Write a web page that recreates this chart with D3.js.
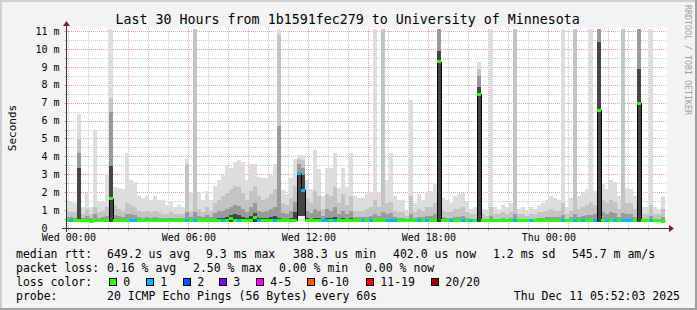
<!DOCTYPE html>
<html>
<head>
<meta charset="utf-8">
<script src="https://cdn.jsdelivr.net/npm/d3@7"></script>
<style>
html, body { margin: 0; padding: 0; background: #f3f3f3; }
svg text { font-family: "DejaVu Sans Mono", monospace; white-space: pre; }
</style>
</head>
<body>
<svg id="viz"></svg>
<script>
var width = 697;
var height = 310;

// 12 minute steps, first column starts Tue 23:50
var firstCol = new Date(2025, 11, 9, 23, 50);
var stepMin = 12;

// median rtt per step (ms)
var median = [
  .44,.44,.43,.44,.44,.43,.38,.44,.44,.43,
  .44,1.65,.44,.43,.44,.44,.44,.43,.44,.44,
  .43,.44,.44,.43,.44,.44,.43,.44,.44,.43,
  .44,.44,.44,.43,.44,.44,.44,.43,.44,.44,
  .45,.55,.46,.44,.47,.45,.44,.60,.46,.47,
  .45,.44,.45,.44,.44,.43,.44,.44,3.05,2.15,
  .43,.44,.44,.43,.44,.44,.43,.44,.44,.43,
  .44,.44,.43,.44,.44,.43,.44,.44,.43,.44,
  .44,.43,.44,.44,.43,.44,.44,.43,.44,.44,
  .43,.44,.44,9.3,.44,.43,.44,.44,.43,.44,
  .44,.43,.44,7.5,.44,.43,.44,.44,.43,.44,
  .44,.43,.44,.44,.43,.44,.44,.43,.44,.44,
  .43,.44,.44,.43,.44,.44,.43,.44,.44,.43,
  .44,.44,.43,6.6,.44,.43,.44,.44,.43,.44,
  .44,.43,.44,7.0,.44,.43,.44,.44,.43,.40
];

// lost pings out of 20 per step
var loss = [
  0,1,0,0,0,0,0,0,0,0,
  0,0,0,0,0,0,1,1,0,0,
  0,0,0,0,0,0,0,0,0,0,
  1,0,1,0,0,0,0,0,0,1,
  0,0,0,1,0,0,0,0,1,0,
  0,0,1,0,0,0,0,0,1,1,
  0,0,0,0,1,1,0,1,0,0,
  0,0,0,0,1,0,1,0,0,0,
  1,1,1,0,0,0,0,0,1,0,
  1,0,0,0,0,0,1,0,0,1,
  0,1,0,0,0,0,0,0,0,0,
  0,0,1,0,0,0,1,0,0,0,
  0,0,0,0,1,0,0,1,0,1,
  0,0,1,0,0,1,0,1,0,1,
  1,1,0,0,0,0,1,0,0,0
];

// lowest ping per step (ms)
var minRtt = [
  .36,.36,.36,.36,.36,.36,.36,.36,.36,.36,
  .36,.36,.36,.36,.36,.36,.36,.36,.36,.36,
  .36,.36,.36,.36,.36,.36,.36,.36,.36,.36,
  .36,.36,.36,.36,.36,.36,.36,.36,.36,.36,
  .36,.36,.36,.36,.36,.36,.36,.36,.36,.36,
  .36,.36,.36,.36,.36,.36,.36,.36,.68,.68,
  .36,.36,.36,.36,.36,.36,.36,.36,.36,.36,
  .36,.36,.36,.36,.36,.36,.36,.36,.36,.36,
  .36,.36,.36,.36,.36,.36,.36,.36,.36,.36,
  .36,.36,.36,.36,.36,.36,.36,.36,.36,.36,
  .36,.36,.36,.36,.36,.36,.36,.36,.36,.36,
  .36,.36,.36,.36,.36,.36,.36,.36,.36,.36,
  .36,.36,.36,.36,.36,.36,.36,.36,.36,.36,
  .36,.36,.36,.36,.36,.36,.36,.36,.36,.36,
  .36,.36,.36,.36,.36,.36,.36,.36,.36,.36
];

// smoke: highest ping (outer band)
var smokeMax = [
  1.6,1.5,1.4,6.4,1.2,2.0,1.2,5.5,1.5,1.5,
  3.0,11.5,2.3,2.25,2.2,4.2,2.7,2.6,1.8,1.7,
  1.8,1.6,1.8,1.6,1.6,1.3,1.5,1.2,1.3,1.2,
  3.9,2.0,11.5,2.0,1.6,2.1,1.6,2.4,2.7,3.0,
  3.5,3.4,3.7,3.8,3.7,2.7,3.6,3.6,2.9,2.8,
  2.8,3.0,3.6,11.5,2.15,1.9,2.8,3.9,4.1,4.1,
  2.7,2.2,4.4,3.3,1.8,3.4,3.4,4.2,2.25,3.4,
  2.3,4.2,1.8,1.7,1.7,1.9,2.0,11.5,2.0,11.5,
  2.7,4.2,1.8,1.6,1.6,1.0,7.2,1.4,1.9,1.6,
  2.0,2.1,2.5,11.5,1.7,1.6,1.4,1.8,1.9,2.0,
  1.5,1.1,1.2,9.3,1.1,1.0,11.5,1.2,1.1,1.3,
  1.2,1.4,11.5,1.1,1.2,1.0,1.2,1.1,1.3,1.4,
  1.6,1.8,1.7,1.6,11.5,1.2,1.7,11.5,1.8,2.0,
  2.2,11.5,2.1,11.5,2.5,2.2,2.7,2.6,1.8,11.5,
  2.25,2.2,1.8,11.5,1.2,1.2,11.5,1.2,1.1,1.8
];

// smoke: second highest band
var smokeHigh = [
  1.0,0.9,0.9,5.0,0.8,1.1,0.8,1.2,0.9,1.0,
  1.2,7.3,1.3,1.1,1.0,1.4,1.3,1.2,1.0,0.9,
  1.0,0.9,1.0,0.9,0.8,0.8,0.9,0.8,0.8,0.8,
  3.6,1.0,11.5,1.1,0.9,1.2,1.0,1.4,1.6,1.8,
  2.0,2.2,2.4,2.3,2.0,1.6,2.1,2.4,1.8,1.6,
  1.7,1.9,2.2,10.8,1.4,1.3,1.7,2.4,3.9,3.8,
  1.7,1.4,2.1,1.8,1.1,1.9,1.8,2.3,1.4,1.9,
  1.3,1.8,1.0,1.0,1.0,1.1,1.2,1.6,1.2,11.5,
  1.4,1.5,1.0,0.9,0.9,0.7,1.8,0.9,1.1,1.0,
  1.2,1.2,1.4,11.5,1.0,0.9,0.9,1.1,1.1,1.2,
  0.9,0.8,0.8,8.9,0.8,0.7,1.2,0.8,0.8,0.9,
  0.8,0.9,11.5,0.8,0.8,0.7,0.8,0.8,0.9,0.9,
  1.0,1.1,1.0,1.0,1.4,0.8,1.0,11.5,1.1,1.2,
  1.3,1.5,1.3,11.5,1.6,1.4,1.6,1.5,1.1,11.5,
  1.4,1.4,1.1,11.5,0.8,0.8,1.3,0.8,0.8,1.1
];

// smoke: inner band
var smokeMid = [
  .65,.62,.60,4.2,.60,.70,.60,.80,.60,.65,
  .70,6.5,.75,.70,.65,.80,.80,.75,.65,.60,
  .65,.60,.65,.60,.60,.58,.60,.58,.58,.60,
  .90,.65,.90,.70,.62,.75,.65,.85,.95,1.0,
  1.1,1.2,1.3,1.25,1.1,.90,1.2,1.4,1.0,.90,
  1.0,1.1,1.2,5.7,.85,.80,1.0,1.5,3.6,3.4,
  1.0,.85,1.1,1.0,.70,1.1,1.0,1.2,.80,1.0,
  .80,1.0,.65,.65,.62,.65,.70,.80,.70,.90,
  .80,.85,.65,.60,.60,.55,.80,.60,.65,.62,
  .70,.70,.80,11.5,.62,.60,.60,.65,.65,.70,
  .60,.55,.55,8.5,.55,.52,.70,.55,.55,.58,
  .55,.60,.80,.55,.55,.52,.55,.55,.58,.60,
  .62,.65,.62,.62,.75,.55,.62,.80,.65,.70,
  .75,.75,.80,11.5,.90,.80,.90,.85,.65,.85,
  .80,.80,.65,11.5,.55,.55,.70,.55,.55,.65
];

// smoke: core band
var smokeCore = [
  .50,.50,.50,3.4,.50,.50,.50,.55,.50,.50,
  .50,3.5,.50,.50,.50,.55,.55,.50,.50,.50,
  .50,.50,.50,.50,.50,.50,.50,.50,.50,.50,
  .55,.50,.55,.50,.50,.50,.50,.55,.60,.60,
  .65,.75,.80,.75,.65,.60,.70,.85,.60,.60,
  .60,.65,.70,.60,.55,.55,.60,.90,3.1,3.0,
  .60,.55,.60,.60,.50,.60,.60,.65,.55,.60,
  .55,.60,.50,.50,.50,.50,.50,.55,.50,.55,
  .50,.55,.50,.50,.50,.50,.55,.50,.50,.50,
  .50,.50,.50,9.9,.50,.50,.50,.50,.50,.50,
  .50,.50,.50,7.9,.50,.50,.50,.50,.50,.50,
  .50,.50,.50,.50,.50,.50,.50,.50,.50,.50,
  .50,.50,.50,.50,.50,.50,.50,.50,.50,.50,
  .50,.50,.50,10.4,.55,.50,.55,.50,.50,.50,
  .50,.50,.50,8.9,.50,.50,.50,.50,.50,.50
];

var lossLabels = ["0", "1", "2", "3", "4-5", "6-10", "11-19", "20/20"];
var lossColors = ["#26ff00", "#00b8ff", "#0059ff", "#7e00ff", "#ff00ff", "#ff5500", "#ff0000", "#a10000"];
var lossBoxX = [109, 146, 183, 219, 256, 307, 366, 431];

var smokeSeries = [smokeMax, smokeHigh, smokeMid, smokeCore];
var smokeColors = ["#dddddd", "#c4c4c4", "#9a9a9a", "#454545"];

var svg = d3.select("#viz")
    .attr("width", width)
    .attr("height", height);

// background + frame shading
svg.append("rect").attr("width", width).attr("height", height).attr("fill", "#f3f3f3");
svg.append("rect").attr("x", 0).attr("y", 0).attr("width", width).attr("height", 2).attr("fill", "#cfcfcf");
svg.append("rect").attr("x", 0).attr("y", 0).attr("width", 2).attr("height", height).attr("fill", "#cfcfcf");
svg.append("rect").attr("x", width - 2).attr("y", 0).attr("width", 2).attr("height", height).attr("fill", "#9e9e9e");
svg.append("rect").attr("x", 0).attr("y", height - 2).attr("width", width).attr("height", 2).attr("fill", "#9e9e9e");

var plotLeft = 67, plotRight = 667, plotTop = 28.5, plotBottom = 228.5;

var x = d3.scaleTime()
    .domain([new Date(2025, 11, 9, 23, 56), new Date(2025, 11, 11, 5, 56)])
    .range([plotLeft, plotRight]);

var y = d3.scaleLinear()
    .domain([0, 11.17])
    .range([plotBottom, plotTop])
    .clamp(true);

function colX(i) {
    return x(d3.timeMinute.offset(firstCol, stepMin * i));
}

// canvas
svg.append("rect")
    .attr("x", plotLeft).attr("y", 28)
    .attr("width", plotRight - plotLeft).attr("height", 201)
    .attr("fill", "#ffffff");

// grid
var grid = svg.append("g").attr("shape-rendering", "crispEdges");

var minorY = d3.range(0.5, 11.2, 1);
var majorY = d3.range(1, 12, 1);
grid.selectAll(".gy").data(minorY).enter().append("line")
    .attr("x1", plotLeft).attr("x2", plotRight)
    .attr("y1", function(d) { return Math.floor(y(d)) + 0.5; })
    .attr("y2", function(d) { return Math.floor(y(d)) + 0.5; })
    .attr("stroke", "#c8c8c8").attr("stroke-dasharray", "1,1");

var hours = x.ticks(d3.timeHour.every(1));
grid.selectAll(".gx").data(hours.filter(function(d) { return d.getHours() % 3 != 0; })).enter().append("line")
    .attr("x1", function(d) { return Math.floor(x(d)) + 0.5; })
    .attr("x2", function(d) { return Math.floor(x(d)) + 0.5; })
    .attr("y1", plotTop).attr("y2", plotBottom)
    .attr("stroke", "#c8c8c8").attr("stroke-dasharray", "1,1");

grid.selectAll(".my").data(majorY).enter().append("line")
    .attr("x1", plotLeft).attr("x2", plotRight)
    .attr("y1", function(d) { return Math.floor(y(d)) + 0.5; })
    .attr("y2", function(d) { return Math.floor(y(d)) + 0.5; })
    .attr("stroke", "#f0a0a0").attr("stroke-dasharray", "1,1");

grid.selectAll(".mx").data(hours.filter(function(d) { return d.getHours() % 3 == 0; })).enter().append("line")
    .attr("x1", function(d) { return Math.floor(x(d)) + 0.5; })
    .attr("x2", function(d) { return Math.floor(x(d)) + 0.5; })
    .attr("y1", plotTop).attr("y2", plotBottom)
    .attr("stroke", "#f0a0a0").attr("stroke-dasharray", "1,1");

// smoke
svg.append("clipPath").attr("id", "plotclip")
    .append("rect").attr("x", plotLeft).attr("y", plotTop).attr("width", plotRight - plotLeft).attr("height", plotBottom - plotTop);

var plot = svg.append("g").attr("clip-path", "url(#plotclip)");

smokeSeries.forEach(function(series, k) {
    plot.append("g")
        .attr("shape-rendering", "crispEdges")
        .selectAll("rect")
        .data(series)
        .enter().append("rect")
        .attr("x", function(d, i) { return colX(i); })
        .attr("width", function(d, i) { return colX(i + 1) - colX(i); })
        .attr("y", function(d) { return Math.round(y(d)); })
        .attr("height", function(d, i) { return Math.max(0, Math.round(y(minRtt[i])) - Math.round(y(d))); })
        .attr("fill", smokeColors[k]);
});

// median step line
var medPts = median.map(function(d, i) { return [colX(i), y(d)]; });
medPts.push([colX(median.length), y(median[median.length - 1])]);
plot.append("path")
    .attr("d", d3.line().curve(d3.curveStepAfter)(medPts))
    .attr("transform", "translate(0.5,0)")
    .attr("fill", "none")
    .attr("stroke", "#000000")
    .attr("stroke-width", 1);

function lossIndex(n) {
    if (n <= 3) return n;
    if (n <= 5) return 4;
    if (n <= 10) return 5;
    if (n <= 19) return 6;
    return 7;
}

plot.append("g")
    .attr("shape-rendering", "crispEdges")
    .selectAll("rect")
    .data(median)
    .enter().append("rect")
    .attr("x", function(d, i) { return colX(i); })
    .attr("width", function(d, i) { return colX(i + 1) - colX(i); })
    .attr("y", function(d) { return Math.round(y(d) - 1.5); })
    .attr("height", 3)
    .attr("fill", function(d, i) { return lossColors[lossIndex(loss[i])]; });

// axes lines, ticks and arrows
var axes = svg.append("g").attr("shape-rendering", "crispEdges");
axes.selectAll(".tx").data(hours).enter().append("line")
    .attr("x1", function(d) { return Math.floor(x(d)) + 0.5; })
    .attr("x2", function(d) { return Math.floor(x(d)) + 0.5; })
    .attr("y1", 229).attr("y2", 231)
    .attr("stroke", function(d) { return d.getHours() % 3 == 0 ? "#f0a0a0" : "#c8c8c8"; });
axes.selectAll(".ty").data(d3.range(0.5, 11.2, 0.5)).enter().append("line")
    .attr("x1", 64).attr("x2", 66)
    .attr("y1", function(d) { return Math.floor(y(d)) + 0.5; })
    .attr("y2", function(d) { return Math.floor(y(d)) + 0.5; })
    .attr("stroke", function(d) { return d % 1 == 0 ? "#f0a0a0" : "#c8c8c8"; });

axes.append("line").attr("x1", 62).attr("x2", 669).attr("y1", 228.5).attr("y2", 228.5).attr("stroke", "#333333");
axes.append("line").attr("x1", 66.5).attr("x2", 66.5).attr("y1", 232).attr("y2", 25).attr("stroke", "#333333");
svg.append("path").attr("d", "M669,225 L674,228.5 L669,232 Z").attr("fill", "#8b1a1a");
svg.append("path").attr("d", "M63,26 L66.5,21 L70,26 Z").attr("fill", "#8b1a1a");

// axis labels
var xAxis = d3.axisBottom(x)
    .ticks(d3.timeHour.every(6))
    .tickFormat(d3.timeFormat("%a %H:%M"))
    .tickSize(0)
    .tickPadding(5);

svg.append("g")
    .attr("transform", "translate(0,229)")
    .call(xAxis)
    .call(function(g) { g.select(".domain").remove(); })
    .attr("font-family", "DejaVu Sans Mono")
    .attr("font-size", 10);

var yAxis = d3.axisLeft(y)
    .tickValues(d3.range(0, 12))
    .tickFormat(function(d) { return d == 0 ? "0  " : d + " m"; })
    .tickSize(0)
    .tickPadding(0);

svg.append("g")
    .attr("transform", "translate(59.5,-0.5)")
    .call(yAxis)
    .call(function(g) { g.select(".domain").remove(); })
    .attr("font-family", "DejaVu Sans Mono")
    .attr("font-size", 10);

svg.append("text")
    .attr("transform", "translate(15.5,128) rotate(-90)")
    .attr("text-anchor", "middle")
    .attr("font-size", 11)
    .text("Seconds");

svg.append("text")
    .attr("x", 347.7).attr("y", 24)
    .attr("text-anchor", "middle")
    .attr("font-size", 13.3)
    .text("Last 30 Hours from 1b1591fec279 to University of Minnesota");

svg.append("text")
    .attr("transform", "translate(685,5) rotate(90)")
    .attr("font-size", 8.3)
    .attr("fill", "#a0a0a0")
    .text("RRDTOOL / TOBI OETIKER");

// legend
var legendRows = [
    { y: 258, items: [[16, "median rtt:"], [107, "649.2 us avg"], [206, "9.3 ms max"], [293, "388.3 us min"], [393, "402.0 us now"], [493, "1.2 ms sd"], [572, "545.7 m am/s"]] },
    { y: 272, items: [[16, "packet loss:"], [107, "0.16 % avg"], [193, "2.50 % max"], [279, "0.00 % min"], [365, "0.00 % now"]] },
    { y: 286, items: [[16, "loss color:"]] },
    { y: 300, items: [[16, "probe:"], [107, "20 ICMP Echo Pings (56 Bytes) every 60s"]] }
];

var legend = svg.append("g").attr("font-size", 11.5);
legendRows.forEach(function(row) {
    legend.selectAll(null).data(row.items).enter().append("text")
        .attr("x", function(d) { return d[0]; })
        .attr("y", row.y)
        .text(function(d) { return d[1]; });
});

legend.selectAll(".box").data(lossColors).enter().append("rect")
    .attr("x", function(d, i) { return lossBoxX[i] + 0.5; })
    .attr("y", 278.5)
    .attr("width", 7).attr("height", 7)
    .attr("fill", function(d) { return d; })
    .attr("stroke", "#000000")
    .attr("shape-rendering", "crispEdges");

legend.selectAll(".boxlabel").data(lossLabels).enter().append("text")
    .attr("x", function(d, i) { return lossBoxX[i] + 14.3; })
    .attr("y", 286)
    .text(function(d) { return d; });

legend.append("text")
    .attr("x", 680).attr("y", 300)
    .attr("text-anchor", "end")
    .text("Thu Dec 11 05:52:03 2025");
</script>
</body>
</html>
